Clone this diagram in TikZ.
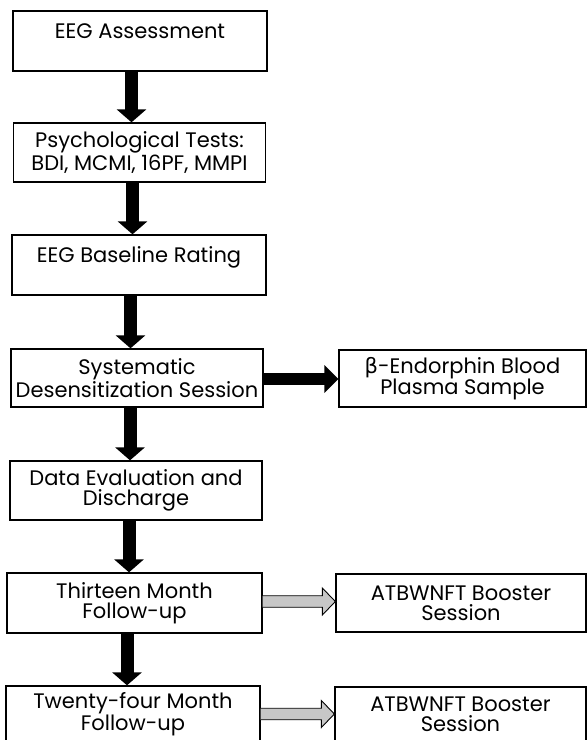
\documentclass[tikz,border=0pt]{standalone}
\usepackage{fontspec}
\setmainfont{Poppins}
\newfontfamily\grkfont{DejaVu Sans}
\usetikzlibrary{arrows.meta,calc}
\begin{document}
\begin{tikzpicture}[x=1pt,y=-1pt,
  box/.style={draw=black,line width=1.3pt,fill=white,inner sep=0pt,align=center,
    font=\fontsize{21}{20}\selectfont},
  bigarrow/.style={line width=13pt,-{Triangle[length=13pt,width=29pt]}},
  grayarrow/.style={draw=black,line width=0.9pt,fill=black!22,line join=miter}
]
\useasboundingbox (0,0) rectangle (587,740);
\clip (0,0) rectangle (587,740);
\fill[white] (0,0) rectangle (587,740);

\node[box,minimum width=254pt,minimum height=60pt] (b1) at (140,41) {EEG Assessment\\\phantom{X}};
\node[box,minimum width=252pt,minimum height=59pt] (b2) at (139.5,152.5) {Psychological Tests:\\BDI, MCMI, 16PF, MMPI};
\node[box,minimum width=254pt,minimum height=60pt] (b3) at (139,265) {EEG Baseline Rating\\\phantom{X}};
\node[box,minimum width=252pt,minimum height=58pt] (b4) at (137,378) {Systematic\\Desensitization Session};
\node[box,minimum width=247pt,minimum height=57pt,font=\fontsize{21}{21.5}\selectfont] (b5) at (462.5,378.5) {{\grkfont β}-Endorphin Blood\\Plasma Sample};
\node[box,minimum width=252pt,minimum height=59pt] (b6) at (136,490.5) {Data Evaluation and\\Discharge};
\node[box,minimum width=255pt,minimum height=60pt] (b7) at (134.5,603) {Thirteen Month\\Follow-up};
\node[box,minimum width=250pt,minimum height=58pt] (b8) at (461,603) {ATBWNFT Booster\\Session};
\node[box,minimum width=254pt,minimum height=56pt] (b9) at (133,714) {Twenty-four Month\\Follow-up};
\node[box,minimum width=251pt,minimum height=55pt] (b10) at (460.5,714.5) {ATBWNFT Booster\\Session};

\draw[bigarrow] ([xshift=-8.5pt]b1.south) -- ([xshift=-8pt]b2.north);
\draw[bigarrow] ([xshift=-7pt]b2.south) -- ([xshift=-6.5pt]b3.north);
\draw[bigarrow] ([xshift=-8.5pt]b3.south) -- ([xshift=-6.5pt]b4.north);
\draw[bigarrow] ([xshift=-7pt]b4.south) -- ([xshift=-6pt]b6.north);
\draw[bigarrow] ([xshift=-7pt]b6.south) -- ([xshift=-5.5pt]b7.north);
\draw[bigarrow] ([xshift=-7.5pt]b7.south) -- ([xshift=-6pt]b9.north);
\draw[line width=12pt,-{Triangle[length=14pt,width=27pt]}] ([yshift=-1pt]b4.east) -- ([yshift=-1pt]b4.east -| b5.west);

\coordinate (s1) at ([yshift=1.5pt]b7.east);
\coordinate (t1) at (s1 -| b8.west);
\draw[grayarrow] ($(s1)+(0,-5.75)$) -- ($(t1)+(-13,-5.75)$) -- ($(t1)+(-13,-13.5)$) -- (t1)
  -- ($(t1)+(-13,13.5)$) -- ($(t1)+(-13,5.75)$) -- ($(s1)+(0,5.75)$);
\coordinate (s2) at ([yshift=0pt]b9.east);
\coordinate (t2) at (s2 -| b10.west);
\draw[grayarrow] ($(s2)+(0,-5.75)$) -- ($(t2)+(-13,-5.75)$) -- ($(t2)+(-13,-13.5)$) -- (t2)
  -- ($(t2)+(-13,13.5)$) -- ($(t2)+(-13,5.75)$) -- ($(s2)+(0,5.75)$);
\end{tikzpicture}
\end{document}
